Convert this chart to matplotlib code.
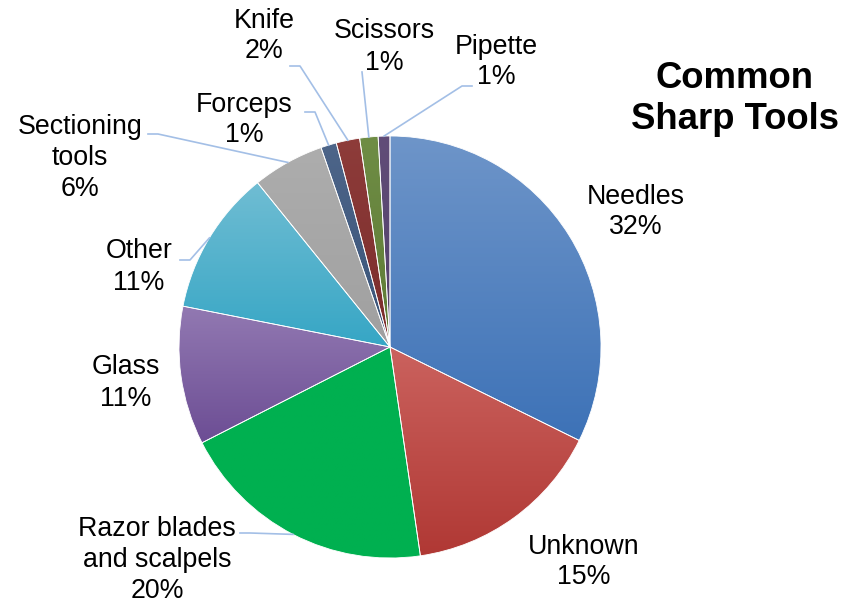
import matplotlib
matplotlib.use('Agg')
import matplotlib.pyplot as plt
import numpy as np
from matplotlib.colors import to_rgb

plt.rcParams['font.family'] = ['Liberation Sans', 'DejaVu Sans']

# data (percent shares)
tools = ['Needles', 'Unknown', 'Razor blades\nand scalpels', 'Glass', 'Other',
         'Sectioning\ntools', 'Forceps', 'Knife', 'Scissors', 'Pipette']
shares = [32.3, 15.4, 19.8, 10.6, 11.1, 5.5, 1.2, 1.8, 1.4, 0.9]
pct_labels = ['32%', '15%', '20%', '11%', '11%', '6%', '1%', '2%', '1%', '1%']

# gradient colours (top, bottom) per slice
tops = ['#6E95C9', '#CB625E', '#00B050', '#9279B2', '#70BDD3',
        '#ADADAD', '#4D6589', '#8E3C3A', '#6F8D45', '#614D78']
bottoms = ['#3D72B7', '#B03834', '#00B050', '#6C4D94', '#36A6C5',
           '#A0A0A0', '#3A5479', '#7A2C2B', '#5E7B36', '#52406A']

W, H = 857, 603
fig = plt.figure(figsize=(W / 100, H / 100), dpi=100)
ax = fig.add_axes([0, 0, 1, 1])

def Y(py):
    return H - py

cx, cy, R = 390, Y(347), 211
wedges, _ = ax.pie(shares, startangle=90, counterclock=False, center=(cx, cy),
                   radius=R, colors=['none'] * len(shares), frame=True,
                   wedgeprops=dict(edgecolor='white', linewidth=0.6))

for w, c1, c2 in zip(wedges, tops, bottoms):
    v = w.get_path().vertices
    x0, x1 = v[:, 0].min(), v[:, 0].max()
    y0, y1 = v[:, 1].min(), v[:, 1].max()
    t = np.linspace(0, 1, 256)[:, None]
    grad = (1 - t) * np.array(to_rgb(c1)) + t * np.array(to_rgb(c2))
    im = ax.imshow(grad[:, None, :], extent=[x0, x1, y0, y1], origin='upper',
                   aspect='auto', zorder=0.5, interpolation='bilinear')
    im.set_clip_path(w)

# label placement (pixel centres) and leader elbows
label_pos = {
    'Needles': (636, 212), 'Unknown': (584, 562),
    'Razor blades\nand scalpels': (157, 560), 'Glass': (126, 383),
    'Other': (139, 267), 'Sectioning\ntools': (80, 158), 'Forceps': (244, 120),
    'Knife': (264, 36), 'Scissors': (384, 47), 'Pipette': (496, 62),
}
leaders = {
    'Razor blades\nand scalpels': [(250, 533), (240, 533)],
    'Other': [(190, 260), (180, 260)],
    'Sectioning\ntools': [(158, 134), (148, 134)],
    'Forceps': [(315, 112), (305, 112)],
    'Knife': [(300, 66), (290, 66)],
    'Scissors': [(362, 72)],
    'Pipette': [(462, 86), (472, 86)],
}

for w, name, pct in zip(wedges, tools, pct_labels):
    px, py = label_pos[name]
    ax.text(px, Y(py), name + '\n' + pct, ha='center', va='center',
            fontsize=19.3, linespacing=1.25, color='black')
    if name in leaders:
        mid = np.deg2rad((w.theta1 + w.theta2) / 2)
        pts = [(cx + R * np.cos(mid), cy + R * np.sin(mid))]
        pts += [(x, Y(y)) for x, y in leaders[name]]
        xs, ys = zip(*pts)
        ax.plot(xs, ys, color='#A3BFE6', lw=1.2, zorder=3)

ax.text(735, Y(99), 'Common\nSharp Tools', ha='center', va='center',
        fontsize=26.3, fontweight='bold', linespacing=1.22)

ax.set_xlim(0, W)
ax.set_ylim(0, H)
ax.axis('off')
plt.savefig('out.png', dpi=100)
